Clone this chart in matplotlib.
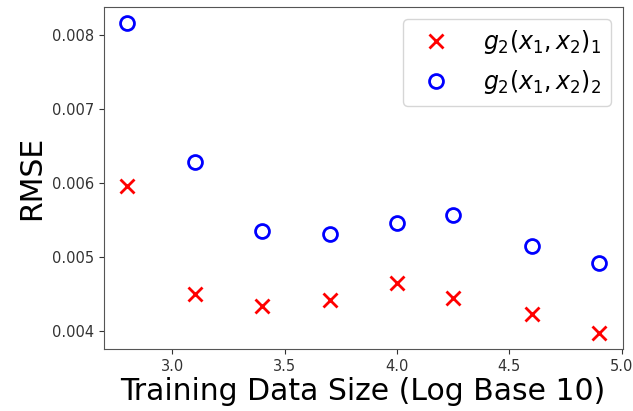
import matplotlib
matplotlib.use("Agg")
import matplotlib.pyplot as plt

x_log_size = [2.8, 3.1, 3.4, 3.7, 4.0, 4.25, 4.6, 4.9]
rmse_1 = [0.00595, 0.00450, 0.00433, 0.00441, 0.00464, 0.00444, 0.00422, 0.00396]
rmse_2 = [0.00817, 0.00628, 0.00535, 0.00531, 0.00546, 0.00556, 0.00515, 0.00491]
label_1 = r"$g_2(x_1,x_2)_1$"
label_2 = r"$g_2(x_1,x_2)_2$"

fig = plt.figure(figsize=(6.33, 4.11), dpi=100)
ax = fig.add_axes([103.5/633, 1 - 349/411, (623 - 103.5)/633, (349 - 7)/411])
ax.plot(x_log_size, rmse_1, linestyle="none", marker="x", color="red",
        markersize=10, markeredgewidth=2, label=label_1)
ax.plot(x_log_size, rmse_2, linestyle="none", marker="o", color="blue",
        markerfacecolor="none", markersize=10, markeredgewidth=2, label=label_2)
ax.set_xlabel("Training Data Size (Log Base 10)", fontsize=21.5, labelpad=2)
ax.set_ylabel("RMSE", fontsize=21.5)
ax.tick_params(labelsize=10.5, colors="#333333")
for s in ax.spines.values():
    s.set_color("#555555")
ax.set_xticks([3.0, 3.5, 4.0, 4.5, 5.0])
ax.set_yticks([0.004, 0.005, 0.006, 0.007, 0.008])
ax.legend(fontsize=17, loc="upper right", handletextpad=1.0)
fig.savefig("out.png", dpi=100)
